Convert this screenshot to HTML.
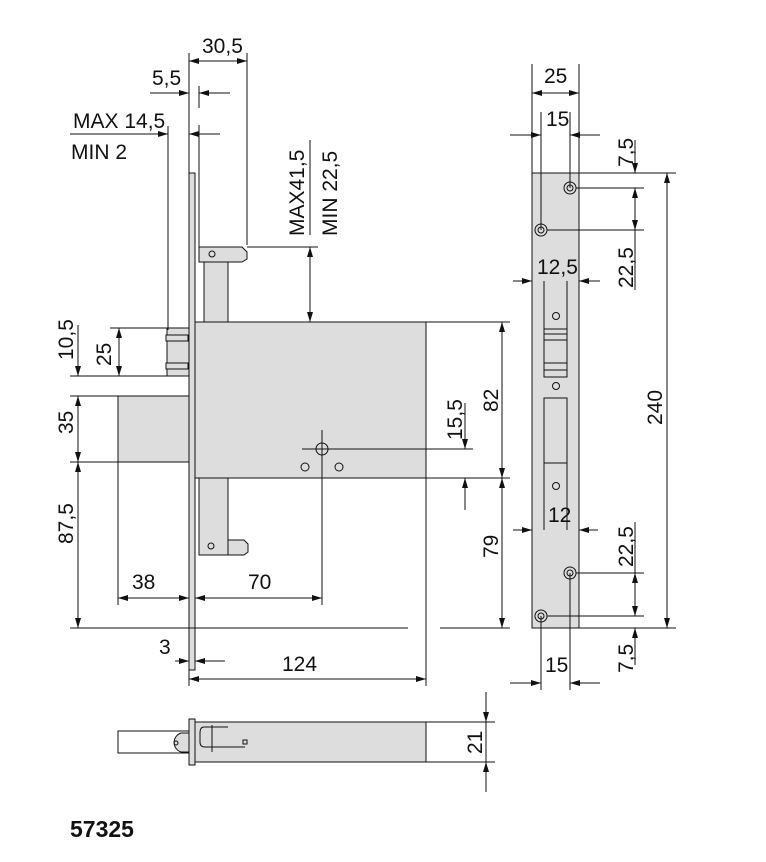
<!DOCTYPE html>
<html><head><style>html,body{margin:0;padding:0;background:#fff}svg{display:block}text{font-family:"Liberation Sans",sans-serif;font-size:21px;fill:#111}</style></head><body>
<svg width="766" height="862" viewBox="0 0 766 862" xmlns="http://www.w3.org/2000/svg">
<defs><marker id="a" viewBox="0 0 10 6" refX="10" refY="3" markerWidth="10" markerHeight="6" orient="auto-start-reverse" markerUnits="userSpaceOnUse"><path d="M0,0 L10,3 L0,6z" fill="#111"/></marker></defs>
<g stroke="#111" stroke-width="1" fill="none">
<rect x="189" y="173" width="6" height="497" fill="#ddd"/>
<rect x="195" y="322" width="231" height="156" fill="#ddd"/>
<rect x="204" y="262" width="24" height="60" fill="#ddd"/>
<path d="M199,247 H242 L247,252 V259 L242,262 H199 Z" fill="#ddd"/>
<rect x="199" y="478" width="29" height="77" fill="#ddd"/>
<path d="M228,540 H244 L248,544 V552 L244,555 H228 Z" fill="#ddd"/>
<rect x="167" y="328" width="22" height="48" fill="#ddd"/>
<rect x="166" y="335" width="22" height="6" fill="#ddd"/>
<rect x="166" y="363" width="22" height="6" fill="#ddd"/>
<rect x="118" y="396" width="71" height="66" fill="#ddd"/>
<circle cx="322" cy="449" r="6"/><line x1="302" y1="449" x2="342" y2="449"/><line x1="322" y1="430" x2="322" y2="605"/>
<circle cx="305" cy="467" r="4"/><circle cx="339" cy="467" r="4"/>
<circle cx="212" cy="254" r="3"/><circle cx="211" cy="546" r="3"/>
<line x1="189" y1="53" x2="189" y2="173"/><line x1="247" y1="53" x2="247" y2="245"/>
<line x1="189" y1="61" x2="247" y2="61" marker-start="url(#a)" marker-end="url(#a)"/>
<line x1="199" y1="86" x2="199" y2="108"/><line x1="199" y1="125" x2="199" y2="247"/>
<line x1="150" y1="93" x2="189" y2="93" marker-end="url(#a)"/><line x1="230" y1="93" x2="199" y2="93" marker-end="url(#a)"/>
<line x1="70" y1="134" x2="168" y2="134" marker-end="url(#a)"/><line x1="220" y1="134" x2="189" y2="134" marker-end="url(#a)"/>
<line x1="168" y1="126" x2="168" y2="330"/>
<line x1="247" y1="247" x2="318" y2="247"/>
<line x1="310" y1="247" x2="310" y2="322" marker-start="url(#a)" marker-end="url(#a)"/>
<line x1="310" y1="140" x2="310" y2="235"/>
<line x1="110" y1="328" x2="167" y2="328"/><line x1="70" y1="376" x2="189" y2="376"/>
<line x1="70" y1="396" x2="118" y2="396"/><line x1="70" y1="462" x2="118" y2="462"/>
<line x1="119" y1="328" x2="119" y2="376" marker-start="url(#a)" marker-end="url(#a)"/>
<line x1="78" y1="325" x2="78" y2="376" marker-end="url(#a)"/>
<line x1="78" y1="396" x2="78" y2="462" marker-start="url(#a)" marker-end="url(#a)"/>
<line x1="78" y1="462" x2="78" y2="628" marker-start="url(#a)" marker-end="url(#a)"/>
<line x1="70" y1="628" x2="408" y2="628"/><line x1="440" y1="628" x2="510" y2="628"/>
<line x1="118" y1="462" x2="118" y2="605"/>
<line x1="118" y1="598" x2="189" y2="598" marker-start="url(#a)" marker-end="url(#a)"/>
<line x1="195" y1="598" x2="322" y2="598" marker-start="url(#a)" marker-end="url(#a)"/>
<line x1="195" y1="478" x2="195" y2="670"/>
<line x1="175" y1="661" x2="189" y2="661" marker-end="url(#a)"/><line x1="225" y1="661" x2="195" y2="661" marker-end="url(#a)"/>
<line x1="189" y1="670" x2="189" y2="686"/><line x1="426" y1="478" x2="426" y2="686"/>
<line x1="189" y1="679" x2="426" y2="679" marker-start="url(#a)" marker-end="url(#a)"/>
<line x1="426" y1="322" x2="510" y2="322"/><line x1="426" y1="478" x2="510" y2="478"/>
<line x1="502" y1="322" x2="502" y2="478" marker-start="url(#a)" marker-end="url(#a)"/>
<line x1="502" y1="478" x2="502" y2="628" marker-start="url(#a)" marker-end="url(#a)"/>
<line x1="342" y1="449" x2="473" y2="449"/>
<line x1="465" y1="403" x2="465" y2="449" marker-end="url(#a)"/><line x1="465" y1="510" x2="465" y2="478" marker-end="url(#a)"/>
<!-- strike plate -->
<rect x="532" y="173" width="47" height="455" fill="#ddd"/>
<rect x="544" y="329" width="23" height="48"/><line x1="544" y1="334" x2="567" y2="334"/><line x1="544" y1="340" x2="567" y2="340"/><line x1="544" y1="363" x2="567" y2="363"/><line x1="544" y1="370" x2="567" y2="370"/>
<rect x="544" y="398" width="23" height="65"/><line x1="544" y1="463" x2="544" y2="530"/><line x1="567" y1="463" x2="567" y2="530"/>
<line x1="544" y1="281" x2="544" y2="329"/><line x1="567" y1="281" x2="567" y2="329"/>
<circle cx="556" cy="316" r="3.5"/><circle cx="556" cy="386" r="3.5"/><circle cx="556" cy="486" r="3.5"/>
<circle cx="570" cy="188" r="6"/><circle cx="570" cy="188" r="3"/>
<circle cx="541" cy="230" r="6"/><circle cx="541" cy="230" r="3"/>
<circle cx="570" cy="573" r="6"/><circle cx="570" cy="573" r="3"/>
<circle cx="541" cy="616" r="6"/><circle cx="541" cy="616" r="3"/>
<line x1="532" y1="64" x2="532" y2="173"/><line x1="579" y1="64" x2="579" y2="173"/>
<line x1="532" y1="93" x2="579" y2="93" marker-start="url(#a)" marker-end="url(#a)"/>
<line x1="541" y1="112" x2="541" y2="230"/><line x1="570" y1="112" x2="570" y2="188"/>
<line x1="510" y1="135" x2="541" y2="135" marker-end="url(#a)"/><line x1="600" y1="135" x2="570" y2="135" marker-end="url(#a)"/>
<line x1="513" y1="281" x2="532" y2="281" marker-end="url(#a)"/><line x1="600" y1="281" x2="579" y2="281" marker-end="url(#a)"/>
<line x1="513" y1="530" x2="532" y2="530" marker-end="url(#a)"/><line x1="598" y1="530" x2="579" y2="530" marker-end="url(#a)"/>
<line x1="579" y1="173" x2="676" y2="173"/><line x1="579" y1="628" x2="676" y2="628"/>
<line x1="576" y1="188" x2="644" y2="188"/><line x1="547" y1="230" x2="644" y2="230"/>
<line x1="576" y1="573" x2="644" y2="573"/><line x1="547" y1="616" x2="644" y2="616"/>
<line x1="635" y1="140" x2="635" y2="173" marker-end="url(#a)"/>
<line x1="635" y1="188" x2="635" y2="230" marker-start="url(#a)" marker-end="url(#a)"/>
<line x1="635" y1="230" x2="635" y2="290"/>
<line x1="635" y1="522" x2="635" y2="573"/>
<line x1="635" y1="573" x2="635" y2="616" marker-start="url(#a)" marker-end="url(#a)"/>
<line x1="635" y1="665" x2="635" y2="628" marker-end="url(#a)"/>
<line x1="667" y1="173" x2="667" y2="628" marker-start="url(#a)" marker-end="url(#a)"/>
<line x1="541" y1="616" x2="541" y2="690"/><line x1="570" y1="573" x2="570" y2="690"/>
<line x1="510" y1="683" x2="541" y2="683" marker-end="url(#a)"/><line x1="600" y1="683" x2="570" y2="683" marker-end="url(#a)"/>
<!-- bottom view -->
<rect x="118" y="731" width="72" height="22" fill="#fff"/>
<rect x="195" y="722" width="231" height="40" fill="#ddd"/>
<path d="M181,733 A10,10 0 0 0 181,752 L190,752 V733Z" fill="#ddd"/>
<circle cx="176" cy="743" r="2"/>
<rect x="189" y="719" width="6" height="46" fill="#ddd"/>
<path d="M228,727 H204 Q200,727 200,733 V742 Q200,747 205,747 H245" />
<rect x="243" y="740" width="4" height="4"/>
<line x1="212" y1="725" x2="212" y2="752"/>
<line x1="426" y1="722" x2="495" y2="722"/><line x1="426" y1="762" x2="495" y2="762"/>
<line x1="486" y1="692" x2="486" y2="722" marker-end="url(#a)"/>
<line x1="486" y1="792" x2="486" y2="762" marker-end="url(#a)"/>
<line x1="486" y1="722" x2="486" y2="762"/>
</g>
<g>
<text x="202" y="53">30,5</text>
<text x="152" y="85">5,5</text>
<text x="73" y="128">MAX 14,5</text>
<text x="71" y="159">MIN 2</text>
<text transform="translate(304,236) rotate(-90)">MAX41,5</text>
<text transform="translate(337,236) rotate(-90)">MIN 22,5</text>
<text transform="translate(73,360) rotate(-90)">10,5</text>
<text transform="translate(111,366) rotate(-90)">25</text>
<text transform="translate(73,434) rotate(-90)">35</text>
<text transform="translate(73,544) rotate(-90)">87,5</text>
<text x="132" y="589">38</text>
<text x="248" y="589">70</text>
<text x="159" y="654">3</text>
<text x="282" y="671">124</text>
<text transform="translate(462,440) rotate(-90)">15,5</text>
<text transform="translate(498,412) rotate(-90)">82</text>
<text transform="translate(498,558) rotate(-90)">79</text>
<text x="544" y="83">25</text>
<text x="546" y="126">15</text>
<text x="537" y="274">12,5</text>
<text x="548" y="522">12</text>
<text x="545" y="672">15</text>
<text transform="translate(633,167) rotate(-90)">7,5</text>
<text transform="translate(633,288) rotate(-90)">22,5</text>
<text transform="translate(633,567) rotate(-90)">22,5</text>
<text transform="translate(633,673) rotate(-90)">7,5</text>
<text transform="translate(662,425) rotate(-90)">240</text>
<text transform="translate(482,754) rotate(-90)">21</text>
<text x="70" y="837" style="font-weight:bold;font-size:23px">57325</text>
</g>
</svg>
</body></html>
